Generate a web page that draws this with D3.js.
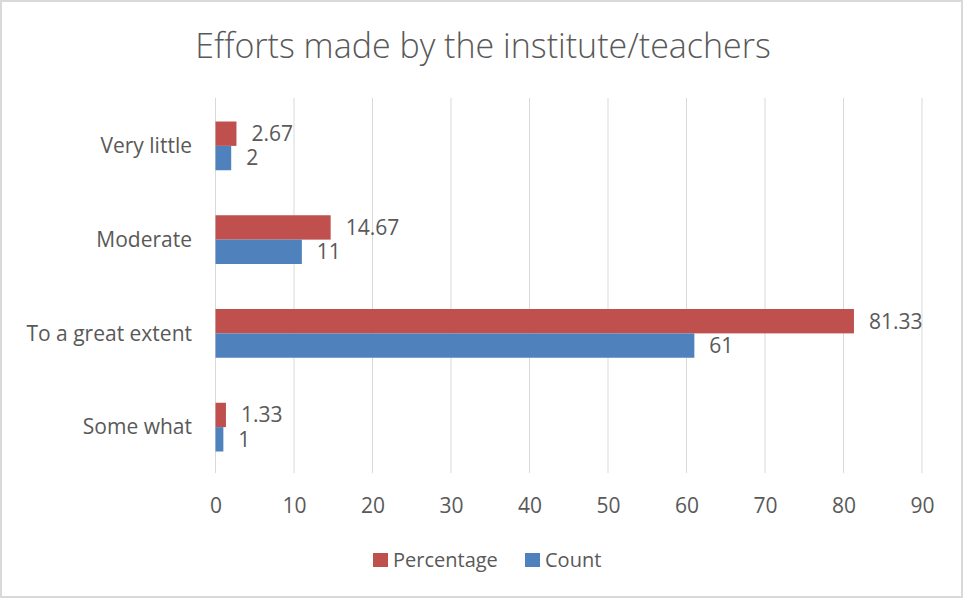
<!DOCTYPE html>
<html>
<head>
<meta charset="utf-8">
<script src="https://cdn.jsdelivr.net/npm/d3@7"></script>
<style>
  body { margin: 0; background: #fff; }
  text { font-family: "Open Sans", sans-serif; fill: #595959; }
</style>
</head>
<body>
<svg id="chart" width="964" height="600"></svg>
<script>
"use strict";

//Chart data
var categories = ["Very little", "Moderate", "To a great extent", "Some what"];
var seriesNames = ["Percentage", "Count"];
var percentage = [2.67, 14.67, 81.33, 1.33];
var count = [2, 11, 61, 1];
var xTicks = [0, 10, 20, 30, 40, 50, 60, 70, 80, 90];
var colors = {Percentage: "#C0504D", Count: "#4F81BD"};

var svg = d3.select("#chart");

//Outer border like the Excel chart area
svg.append("rect")
  .attr("x", 1).attr("y", 1)
  .attr("width", 961).attr("height", 596)
  .attr("fill", "#fff")
  .attr("stroke", "#d9d9d9")
  .attr("stroke-width", 2);

//Title
svg.append("text")
  .attr("x", 483)
  .attr("y", 58)
  .attr("text-anchor", "middle")
  .style("font-size", "34px")
  .style("font-weight", 300)
  .text("Efforts made by the institute/teachers");

//Scales
var x = d3.scaleLinear().domain([0, 90]).range([215.5, 922]);
var y = d3.scaleBand().domain(categories).range([99, 474])
  .paddingInner(0.48).paddingOuter(0.24);
var ySub = d3.scaleBand().domain(seriesNames).range([0, y.bandwidth()]);

//Gridlines
svg.append("g")
  .selectAll("line")
  .data(xTicks)
  .enter().append("line")
  .attr("x1", function(d) { return x(d); })
  .attr("x2", function(d) { return x(d); })
  .attr("y1", 98)
  .attr("y2", 473)
  .attr("stroke", "#d9d9d9")
  .attr("stroke-width", 1);

//X axis labels
var xAxis = svg.append("g")
  .attr("transform", "translate(0,490)")
  .call(d3.axisBottom(x).tickValues(xTicks).tickSize(0).tickPadding(8));
xAxis.select(".domain").remove();
xAxis.selectAll("text")
  .style("font-size", "21px")
  .attr("fill", "#595959");

//Y axis labels
var yAxis = svg.append("g")
  .attr("transform", "translate(192,0)")
  .call(d3.axisLeft(y).tickSize(0).tickPadding(0));
yAxis.select(".domain").remove();
yAxis.selectAll("text")
  .style("font-size", "21px")
  .attr("fill", "#595959")
  .attr("dy", "0.35em");

//Bars
var rows = categories.map(function(c, i) {
  return {cat: c, values: [
    {key: "Percentage", value: percentage[i]},
    {key: "Count", value: count[i]}
  ]};
});

var group = svg.selectAll(".cat")
  .data(rows)
  .enter().append("g")
  .attr("class", "cat")
  .attr("transform", function(d) { return "translate(0," + y(d.cat) + ")"; });

group.selectAll("rect")
  .data(function(d) { return d.values; })
  .enter().append("rect")
  .attr("x", x(0))
  .attr("y", function(d) { return ySub(d.key); })
  .attr("width", function(d) { return x(d.value) - x(0); })
  .attr("height", ySub.bandwidth())
  .attr("fill", function(d) { return colors[d.key]; });

group.selectAll(".label")
  .data(function(d) { return d.values; })
  .enter().append("text")
  .attr("class", "label")
  .attr("x", function(d) { return x(d.value) + 15; })
  .attr("y", function(d) { return ySub(d.key) + ySub.bandwidth() / 2; })
  .attr("dy", "0.35em")
  .style("font-size", "21px")
  .attr("fill", "#404040")
  .text(function(d) { return d.value; });

//Legend
var legendX = [373, 525];
var legend = svg.selectAll(".legend")
  .data(seriesNames)
  .enter().append("g")
  .attr("class", "legend")
  .attr("transform", function(d, i) { return "translate(" + legendX[i] + ",553)"; });

legend.append("rect")
  .attr("width", 15)
  .attr("height", 14)
  .attr("fill", function(d) { return colors[d]; });

legend.append("text")
  .attr("x", 20)
  .attr("y", 7)
  .attr("dy", "0.35em")
  .style("font-size", "20px")
  .text(function(d) { return d; });
</script>
</body>
</html>
